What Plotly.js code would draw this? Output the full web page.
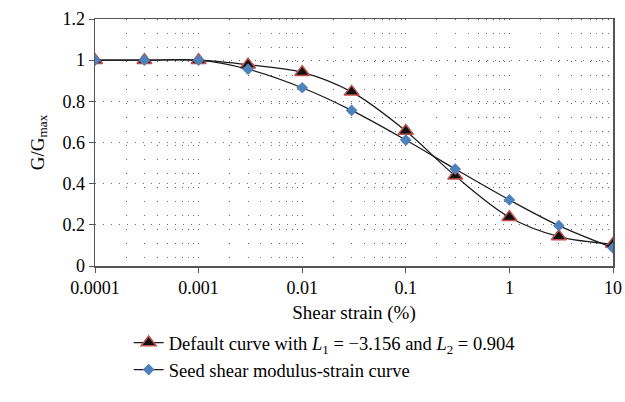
<!DOCTYPE html>
<html><head><meta charset="utf-8">
<script src="https://cdn.plot.ly/plotly-3.0.1.min.js"></script>
<style>body{margin:0;background:#fff}#chart{width:625px;height:402px}</style>
</head><body><div id="chart"></div>
<script>
const strain = [0.0001, 0.0003, 0.001, 0.003, 0.01, 0.03, 0.1, 0.3, 1, 3, 10];
const defaultCurve = [1, 1, 1, 0.978, 0.941, 0.846, 0.656, 0.438, 0.237, 0.143, 0.107];
const seedCurve = [1, 1, 1, 0.956, 0.866, 0.756, 0.612, 0.471, 0.321, 0.196, 0.088];
const xTicks = [0.0001, 0.001, 0.01, 0.1, 1, 10];
const xTickText = ['0.0001', '0.001', '0.01', '0.1', '1', '10'];
const yTicks = [0, 0.2, 0.4, 0.6, 0.8, 1, 1.2];
const yTickText = ['0', '0.2', '0.4', '0.6', '0.8', '1', '1.2'];

const fam = "'Liberation Serif', 'DejaVu Serif', serif";
const font = {family: fam, size: 18, color: '#000'};
const titleFont = {family: fam, size: 19, color: '#000'};
const legendFont = {family: fam, size: 18.5, color: '#000'};

const traces = [
  {x: strain, y: defaultCurve, mode: 'lines+markers', type: 'scatter',
   name: 'Default curve with <i>L</i><sub>1</sub> = −3.156 and <i>L</i><sub>2</sub> = 0.904',
   line: {color: '#1a1a1a', width: 1.2, shape: 'spline', smoothing: 1},
   marker: {symbol: 'triangle-up', size: 13, color: '#111', line: {color: '#c0504d', width: 1.5}}},
  {x: strain, y: seedCurve, mode: 'lines+markers', type: 'scatter',
   name: 'Seed shear modulus-strain curve',
   line: {color: '#1a1a1a', width: 1.2, shape: 'spline', smoothing: 1},
   marker: {symbol: 'diamond', size: 9, color: '#4f81bd', line: {width: 0}}}
];

const layout = {
  width: 625, height: 402,
  margin: {l: 95, r: 12, t: 19, b: 136},
  paper_bgcolor: '#fff', plot_bgcolor: '#fff',
  font: font,
  showlegend: true,
  legend: {x: 0.065, y: -0.235, xanchor: 'left', yanchor: 'top', orientation: 'v',
           traceorder: 'normal', itemwidth: 30, tracegroupgap: 0,
           font: legendFont, bgcolor: 'rgba(0,0,0,0)'},
  xaxis: {type: 'log', range: [-4, 1], tickvals: xTicks, ticktext: xTickText,
          showline: true, linecolor: '#555', linewidth: 1.5, mirror: true,
          ticks: 'outside', ticklen: 5, tickcolor: '#555',
          showgrid: false, zeroline: false,
          minor: {dtick: 'D1', showgrid: true, gridcolor: '#666', gridwidth: 1, griddash: '1px,13px', ticks: ''},
          title: {text: 'Shear strain (%)', font: titleFont, standoff: 8}},
  yaxis: {range: [0, 1.2], tickvals: yTicks, ticktext: yTickText,
          showline: true, linecolor: '#555', linewidth: 1.5, mirror: true,
          ticks: 'outside', ticklen: 5, tickcolor: '#555',
          showgrid: true, gridcolor: '#666', gridwidth: 1, griddash: '1px,7px',
          zeroline: false,
          title: {text: 'G/G<sub>max</sub>', font: titleFont, standoff: 13}}
};

Plotly.newPlot('chart', traces, layout, {displayModeBar: false, staticPlot: true});
</script></body></html>
